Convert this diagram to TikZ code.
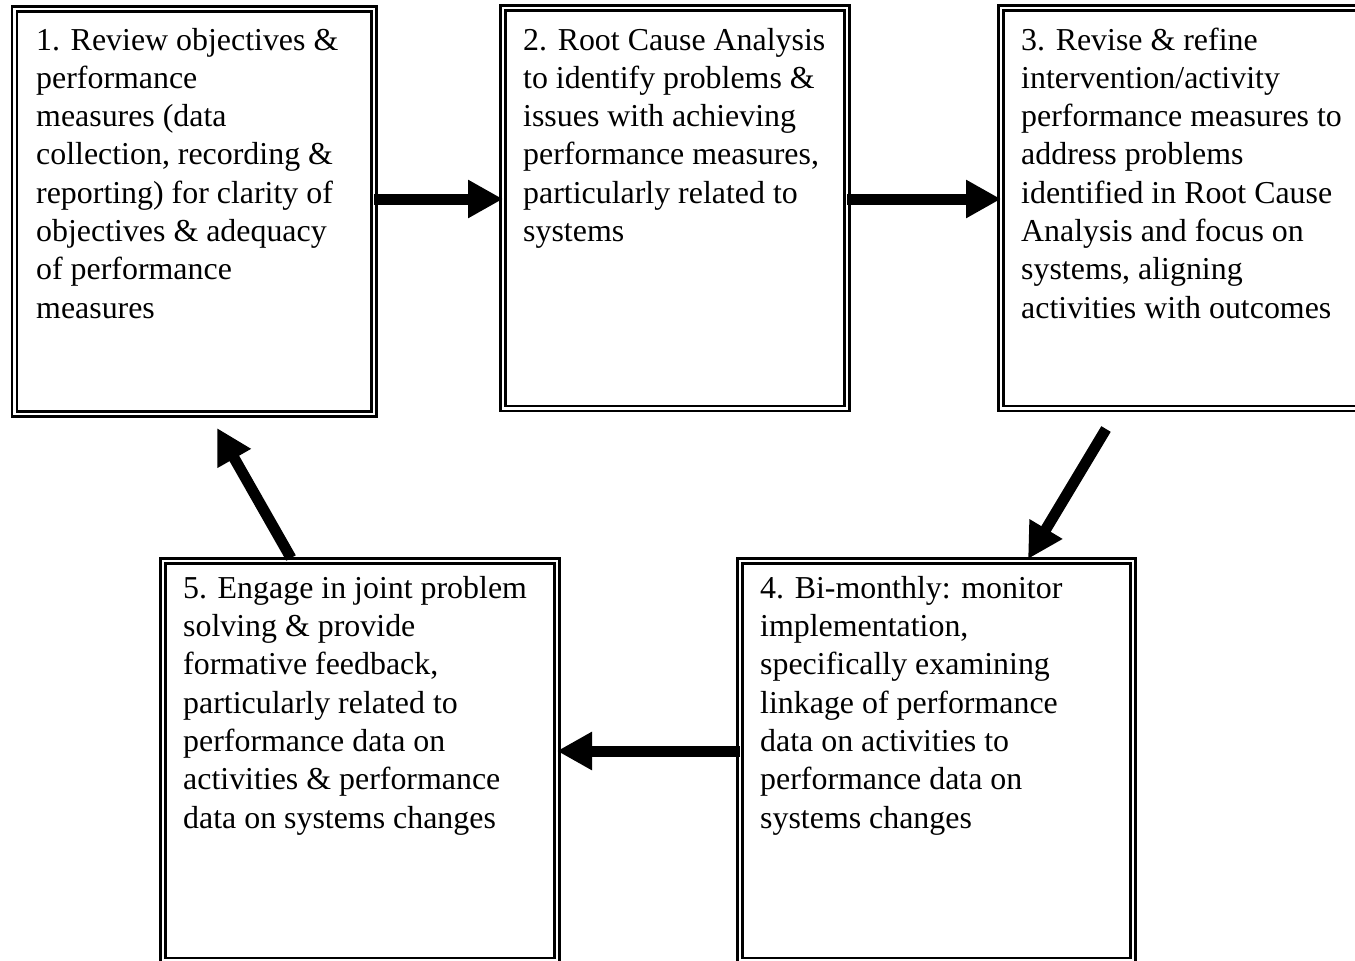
\documentclass[tikz,border=0pt]{standalone}
\usepackage{fontspec}
\setmainfont{Liberation Serif}
\usepackage{tikz}
\usetikzlibrary{arrows.meta, positioning}

\begin{document}
\begin{tikzpicture}[x=1pt, y=-1pt,
    box/.style={draw, double, line width=2.2pt, double distance=2.8pt, rectangle,
                anchor=north west, inner sep=0pt, outer sep=0pt},
    txt/.style={anchor=base west, align=left, inner sep=0pt,
                font=\fontsize{31.9}{38.3}\selectfont},
    flow/.style={draw, line width=11pt, -{Triangle[length=35pt, width=36pt]}}]
                        \useasboundingbox (0,0) rectangle (1355,961);

                        % the five steps
                        \node[box, minimum width=359.5pt, minimum height=405pt] (rv) at (14.5, 9) {};
                        \node[box, minimum width=344pt, minimum height=400.5pt] (rc) at (503, 8) {};
                        \node[box, minimum width=369pt, minimum height=400.5pt] (rf) at (1001, 8) {};
                        \node[box, minimum width=393pt, minimum height=399.5pt] (mn) at (740, 561) {};
                        \node[box, minimum width=394pt, minimum height=399.5pt] (en) at (163, 561) {};

                        % texts hang from the baseline of their last line
                        \node[txt] (rvt) at ([xshift=21.5pt, yshift=-309.1pt]rv.north west)
                            {1. Review objectives \&\\ performance\\ measures (data\\ collection, recording \&\\
                             reporting) for clarity of\\ objectives \& adequacy\\ of performance\\ measures};
                        \node[txt] (rct) at ([xshift=20pt, yshift=-233.5pt]rc.north west)
                            {2. Root Cause Analysis\\ to identify problems \&\\ issues with achieving\\
                             performance measures,\\ particularly related to\\ systems};
                        \node[txt] (rft) at ([xshift=20pt, yshift=-310.1pt]rf.north west)
                            {3. Revise \& refine\\ intervention/activity\\ performance measures to\\ address problems\\
                             identified in Root Cause\\ Analysis and focus on\\ systems, aligning\\ activities with outcomes};
                        \node[txt] (mnt) at ([xshift=20pt, yshift=-267pt]mn.north west)
                            {4. Bi-monthly: monitor\\ implementation,\\ specifically examining\\ linkage of performance\\
                             data on activities to\\ performance data on\\ systems changes};
                        \node[txt] (ent) at ([xshift=20pt, yshift=-267pt]en.north west)
                            {5. Engage in joint problem\\ solving \& provide\\ formative feedback,\\ particularly related to\\
                             performance data on\\ activities \& performance\\ data on systems changes};

                        \draw
                        ([yshift=12.5pt]rv.east) edge[flow] ([yshift=9.25pt]rc.west)
                        ([yshift=9.25pt]rc.east) edge[flow] ([yshift=9.25pt]rf.west)
                        ([xshift=-79.5pt, yshift=-20.5pt]rf.south) edge[flow] ([xshift=91.5pt, yshift=2pt]mn.north)
                        ([yshift=9.75pt]mn.west) edge[flow] ([yshift=9.75pt]en.east)
                        ([xshift=-69pt, yshift=3pt]en.north) edge[flow] ([xshift=22.75pt, yshift=-14pt]rv.south);
                    \end{tikzpicture}
\end{document}
